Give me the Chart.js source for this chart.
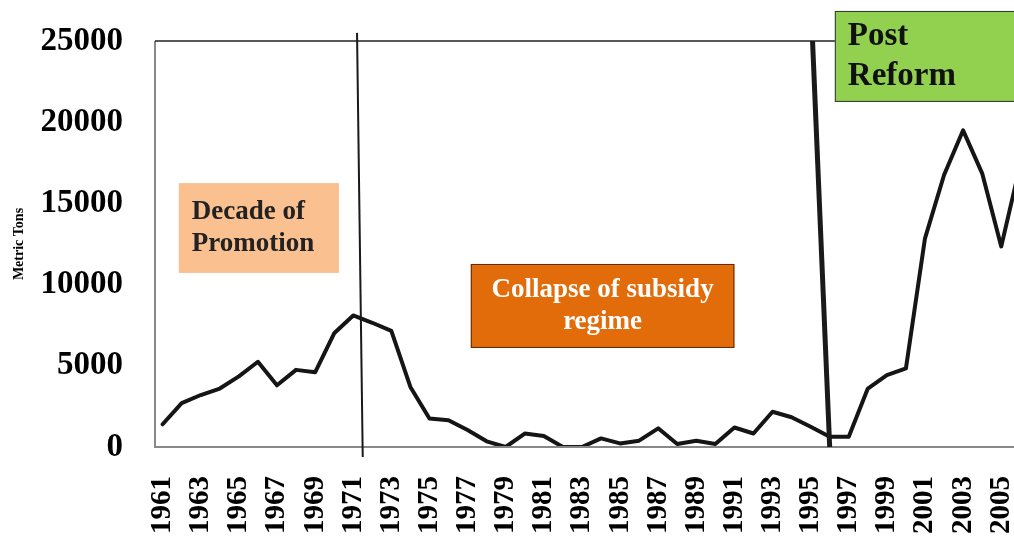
<!DOCTYPE html>
<html>
<head>
<meta charset="utf-8">
<script src="https://cdn.jsdelivr.net/npm/chart.js@4.4.1/dist/chart.umd.min.js"></script>
<style>
  html, body { margin: 0; padding: 0; background: #fff; }
  #wrap { width: 1014px; height: 544px; }
</style>
</head>
<body>
<div id="wrap"><canvas id="c" width="1014" height="544"></canvas></div>
<script>
// data
var years = [1961, 1962, 1963, 1964, 1965, 1966, 1967, 1968, 1969, 1970,
	1971, 1972, 1973, 1974, 1975, 1976, 1977, 1978, 1979, 1980,
	1981, 1982, 1983, 1984, 1985, 1986, 1987, 1988, 1989, 1990,
	1991, 1992, 1993, 1994, 1995, 1996, 1997, 1998, 1999, 2000,
	2001, 2002, 2003, 2004, 2005, 2006];
var tons = [1400, 2700, 3200, 3600, 4350, 5250, 3800, 4750, 4600, 7000,
	8100, 7650, 7150, 3700, 1750, 1650, 1050, 350, 0, 830,
	680, 0, 0, 530, 220, 390, 1150, 180, 390, 180,
	1200, 830, 2170, 1830, 1250, 630, 630, 3600, 4430, 4840,
	12850, 16750, 19500, 16850, 12350, 17400];
var yearTicks = [1961, 1963, 1965, 1967, 1969, 1971, 1973, 1975, 1977, 1979, 1981, 1983,
	1985, 1987, 1989, 1991, 1993, 1995, 1997, 1999, 2001, 2003, 2005];
var yTicks = [0, 5000, 10000, 15000, 20000, 25000];

var serif = "'Liberation Serif', 'Times New Roman', serif";

// period dividers, in data units (year, tons)
var dividers = [
	{ from: [1971.2, 25500], to: [1971.5, -620], width: 2 },
	{ from: [1995.1, 25000], to: [1996.0, 0], width: 5 }
];
// period labels
var notes = [
	{ lines: ['Decade of', 'Promotion'], x0: 1961.85, x1: 1970.25, y0: 16250, y1: 10720,
	  fill: '#fac090', color: '#222', size: 27, lh: 32, align: 'left', border: null },
	{ lines: ['Collapse of subsidy', 'regime'], x0: 1977.17, x1: 1991.0, y0: 11270, y1: 6100,
	  fill: '#e36c0a', color: '#fff', size: 27, lh: 32, align: 'center', border: '#5a2a05' },
	{ lines: ['Post', 'Reform'], x0: 1996.27, x1: 2008.5, y0: 26850, y1: 21250,
	  fill: '#92d050', color: '#111', size: 33, lh: 40, align: 'left', border: '#333' }
];

var decorations = {
	id: 'decorations',
	afterDraw: function(chart) {
		var ctx = chart.ctx, xs = chart.scales.x, ys = chart.scales.y, a = chart.chartArea;
		ctx.save();
		// plot frame
		ctx.strokeStyle = '#888';
		ctx.lineWidth = 2;
		ctx.beginPath();
		ctx.moveTo(a.left, a.top);
		ctx.lineTo(a.left, a.bottom);
		ctx.lineTo(a.right, a.bottom);
		ctx.stroke();
		ctx.strokeStyle = '#222';
		ctx.lineWidth = 1.5;
		ctx.beginPath();
		ctx.moveTo(a.left, a.top);
		ctx.lineTo(a.right, a.top);
		ctx.stroke();

		dividers.forEach(function(d) {
			ctx.strokeStyle = '#1a1a1a';
			ctx.lineWidth = d.width;
			ctx.beginPath();
			ctx.moveTo(xs.getPixelForValue(d.from[0]), ys.getPixelForValue(d.from[1]));
			ctx.lineTo(xs.getPixelForValue(d.to[0]), ys.getPixelForValue(d.to[1]));
			ctx.stroke();
		});

		notes.forEach(function(n) {
			var l = xs.getPixelForValue(n.x0), r = xs.getPixelForValue(n.x1);
			var t = ys.getPixelForValue(n.y0), b = ys.getPixelForValue(n.y1);
			ctx.fillStyle = n.fill;
			ctx.fillRect(l, t, r - l, b - t);
			if (n.border) {
				ctx.strokeStyle = n.border;
				ctx.lineWidth = 1;
				ctx.strokeRect(l + 0.5, t + 0.5, r - l - 1, b - t - 1);
			}
			ctx.fillStyle = n.color;
			ctx.font = 'bold ' + n.size + 'px ' + serif;
			ctx.textBaseline = 'middle';
			ctx.textAlign = n.align;
			var tx = n.align === 'center' ? (l + r) / 2 : l + 13;
			var mid = (t + b) / 2;
			n.lines.forEach(function(s, i) {
				ctx.fillText(s, tx, mid + (i - (n.lines.length - 1) / 2) * n.lh);
			});
		});
		ctx.restore();
	}
};

new Chart(document.getElementById('c'), {
	type: 'line',
	data: {
		datasets: [{
			label: 'Metric Tons',
			data: years.map(function(y, i) { return { x: y, y: tons[i] }; }),
			borderColor: '#151515',
			borderWidth: 4,
			borderJoinStyle: 'round',
			borderCapStyle: 'round',
			pointRadius: 0,
			tension: 0,
			fill: false
		}]
	},
	options: {
		responsive: false,
		animation: false,
		devicePixelRatio: 1,
		layout: { padding: { top: 41, right: 0, left: 0, bottom: 0 } },
		plugins: { legend: { display: false }, tooltip: { enabled: false } },
		scales: {
			x: {
				type: 'linear',
				min: 1960.6,
				max: 2005.67,
				grid: { display: false, drawTicks: false },
				border: { display: false },
				afterBuildTicks: function(s) {
					s.ticks = yearTicks.map(function(v) { return { value: v }; });
				},
				afterFit: function(s) {
					s.height = 97;
					s.paddingLeft = 0;
					s.paddingRight = 0;
				},
				ticks: {
					autoSkip: false,
					minRotation: 90,
					maxRotation: 90,
					padding: 29,
					color: '#000',
					font: { family: serif, size: 29, weight: 'bold' },
					callback: function(v) { return String(v); }
				}
			},
			y: {
				min: 0,
				max: 25000,
				grid: { display: false, drawTicks: false },
				border: { display: false },
				afterBuildTicks: function(s) {
					s.ticks = yTicks.map(function(v) { return { value: v }; });
				},
				afterFit: function(s) {
					s.width = 155;
					s.paddingTop = 0;
					s.paddingBottom = 0;
				},
				title: {
					display: true,
					text: 'Metric Tons',
					color: '#000',
					font: { family: serif, size: 14, weight: 'bold' },
					padding: { top: 11, bottom: 0 }
				},
				ticks: {
					padding: 32,
					color: '#000',
					font: { family: serif, size: 33, weight: 'bold' },
					callback: function(v) { return String(v); }
				}
			}
		}
	},
	plugins: [decorations]
});
</script>
</body>
</html>
